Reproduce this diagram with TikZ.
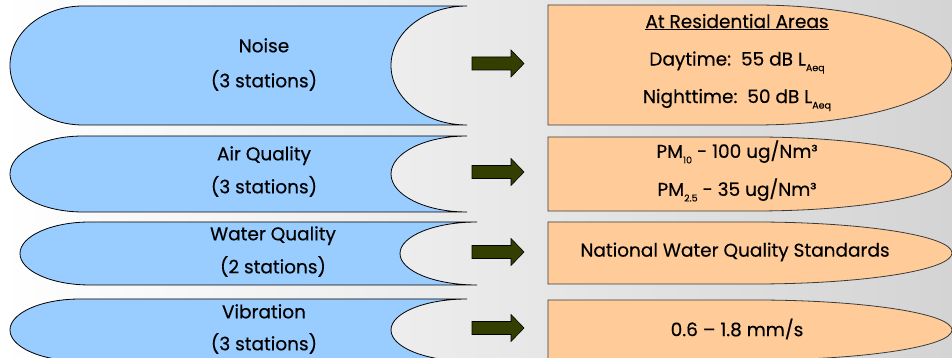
\documentclass[tikz,border=0pt]{standalone}
\usepackage{fontspec}
\setmainfont{Poppins}[FakeBold=0.35]
\definecolor{bluefill}{HTML}{99CCFF}
\definecolor{orangefill}{HTML}{FFCC99}
\definecolor{arrowgreen}{HTML}{333F00}
\definecolor{bgright}{HTML}{D4D4D4}
\definecolor{orangeline}{HTML}{3A3A3A}
\newcommand\lowsub[1]{\raisebox{-0.55ex}{\fontsize{9.5}{10}\selectfont #1}}
% #1 left x, #2 right x, #3 top y, #4 bottom y, #5 left radius, #6 right radius
\newcommand\bluestrip[6]{%
  \pgfmathsetmacro\myry{(#3-#4)/2}%
  \path[bluebox] ({#1+#5},#3) -- (#2,#3)
    arc[start angle=90,end angle=270,x radius=#6,y radius=\myry]
    -- ({#1+#5},#4)
    arc[start angle=270,end angle=90,x radius=#5,y radius=\myry] -- cycle;}
% #1 top y, #2 bottom y
\newcommand\orangestrip[2]{%
  \pgfmathsetmacro\myry{(#1-#2)/2}%
  \path[orangebox] (548,#1) -- (755,#1)
    arc[start angle=90,end angle=-90,x radius=197,y radius=\myry]
    -- (548,#2) -- cycle;}
% #1 centre y
\newcommand\greenarrow[1]{%
  \path[blockarrow] (472,{#1+6.5}) -- (511,{#1+6.5}) -- (511,{#1+13.5})
    -- (524,#1) -- (511,{#1-13.5}) -- (511,{#1-6.5}) -- (472,{#1-6.5}) -- cycle;}
\begin{document}
\begin{tikzpicture}[x=1pt,y=1pt,
  bluebox/.style={fill=bluefill, draw=black, line width=0.8pt},
  orangebox/.style={fill=orangefill, draw=orangeline, line width=0.8pt},
  blockarrow/.style={fill=arrowgreen, draw=black, line width=0.6pt, line join=miter},
  txt/.style={font=\fontsize{18.5}{33}\selectfont, align=center, inner sep=0pt}]
\clip (0,0) rectangle (952,358);
\shade[left color=white, right color=bgright] (0,0) rectangle (952,358);

\bluestrip{10}{467}{352}{233}{73}{76}
\bluestrip{10}{467}{222}{146}{73}{76}
\bluestrip{20}{477}{136}{73}{70}{77}
\bluestrip{10}{467}{59}{-3}{70}{76}

\orangestrip{353}{233}
\orangestrip{221}{147}
\orangestrip{136}{74}
\orangestrip{58}{-2}

\greenarrow{294.5}
\greenarrow{186}
\greenarrow{106}
\greenarrow{30}

\node[txt, font=\fontsize{18.5}{35}\selectfont] (noise) at (264,293.5) {Noise\\(3 stations)};
\node[txt] (air) at (264,186.5) {Air Quality\\(3 stations)};
\node[txt] (water) at (273,106.5) {Water Quality\\(2 stations)};
\node[txt, font=\fontsize{18.5}{32}\selectfont] (vib) at (264,29) {Vibration\\(3 stations)};

\node[txt, font=\fontsize{18.5}{37.5}\selectfont] (noisestd) at (737,295.5)
  {\underline{At Residential Areas}\\Daytime:\ \ 55 dB L\lowsub{Aeq}\\Nighttime:\ \ 50 dB L\lowsub{Aeq}};
\node[txt, font=\fontsize{18.5}{38}\selectfont] (airstd) at (737,187)
  {PM\lowsub{10} - 100 ug/Nm³\\PM\lowsub{2.5} - 35 ug/Nm³};
\node[txt] (waterstd) at (735,106) {National Water Quality Standards};
\node[txt] (vibstd) at (737,29) {0.6 – 1.8 mm/s};
\end{tikzpicture}
\end{document}
